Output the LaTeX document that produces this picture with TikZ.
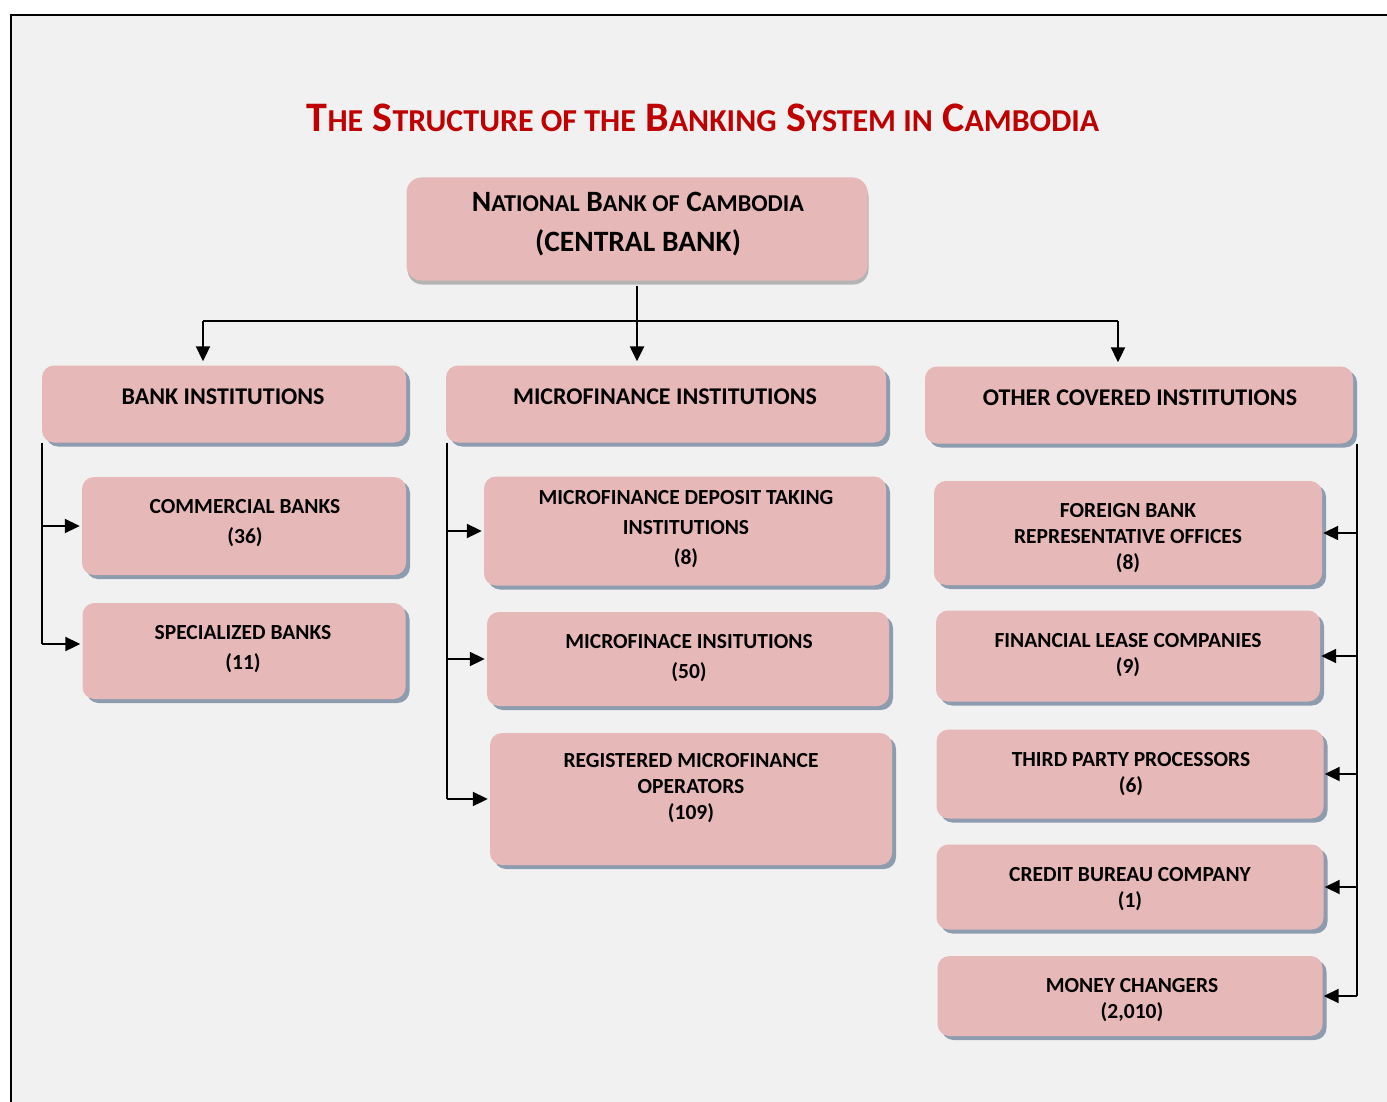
\documentclass[tikz,border=0pt]{standalone}
\usepackage{fontspec}
\setmainfont{Carlito}
\usetikzlibrary{arrows.meta, shadows}

\definecolor{boxpink}{HTML}{E6B8B7}
\definecolor{shadeblue}{HTML}{8E9CAF}
\definecolor{panelgray}{HTML}{F1F1F1}
\definecolor{titlered}{HTML}{C00000}

% fake small caps: big first letter, scaled rest
\newcommand{\fsc}[2]{#1\scalebox{0.76}{#2}}
\newcommand{\fscb}[2]{#1\scalebox{0.82}{#2}}

\begin{document}
\begin{tikzpicture}[x=1pt, y=-1pt, >={Triangle[length=15pt, width=14pt]},
	box/.style={fill=boxpink, rounded corners=12pt, inner sep=0pt,
		drop shadow={shadow xshift=4pt, shadow yshift=-4pt, fill=shadeblue, opacity=1}},
	topbox/.style={fill=boxpink, rounded corners=15pt, inner sep=0pt,
		drop shadow={shadow xshift=1pt, shadow yshift=-4pt, fill=black, opacity=0.25}},
	head/.style={font=\bfseries\fontsize{24}{28}\selectfont},
	lbl/.style={font=\bfseries\fontsize{21.5}{30}\selectfont, align=center},
	lbltight/.style={font=\bfseries\fontsize{21.5}{26}\selectfont, align=center},
	bus/.style={line width=1.6pt},
	arr/.style={line width=2pt, ->}]
	
	% --- 1. PANEL ---
	\useasboundingbox (0,0) rectangle (1387,1102);
	\fill[white] (0,0) rectangle (1387,1102);
	\fill[panelgray] (11,15) rectangle (1387,1102);
	\draw[line width=2pt] (11,1102) -- (11,15) -- (1387,15);
	
	% --- 2. TITLE ---
	\node[text=titlered, font=\bfseries\fontsize{42}{42}\selectfont] (title) at (703,118)
		{\fsc{T}{HE} \fsc{S}{TRUCTURE OF THE} \fsc{B}{ANKING} \fsc{S}{YSTEM IN} \fsc{C}{AMBODIA}};
	
	% --- 3. CENTRAL BANK ---
	\node[topbox, minimum width=461pt, minimum height=103pt] (nbc) at (637,229) {};
	\node[font=\bfseries\fontsize{29.5}{40}\selectfont, align=center] (nbc-t) at (638,224)
		{\fscb{N}{ATIONAL} \fscb{B}{ANK OF} \fscb{C}{AMBODIA}\\(CENTRAL BANK)};
	
	% --- 4. SECOND LEVEL ---
	\node[box, minimum width=364pt, minimum height=77pt] (bank) at (224,404) {};
	\node[box, minimum width=440pt, minimum height=77pt] (mfi) at (666,404) {};
	\node[box, minimum width=428pt, minimum height=77pt] (other) at (1139,405) {};
	\node[head] (bank-t) at (223,397) {BANK INSTITUTIONS};
	\node[head] (mfi-t) at (665,397) {MICROFINANCE INSTITUTIONS};
	\node[head] (other-t) at (1140,398) {OTHER COVERED INSTITUTIONS};
	
	% --- 5. THIRD LEVEL: banks ---
	\node[box, minimum width=324pt, minimum height=98pt] (comm) at (244,526) {};
	\node[box, minimum width=323pt, minimum height=96pt] (spec) at (244,651) {};
	\node[lbl] (comm-t) at (245,523) {COMMERCIAL BANKS\\(36)};
	\node[lbl] (spec-t) at (243,649) {SPECIALIZED BANKS\\(11)};
	
	% --- 6. THIRD LEVEL: microfinance ---
	\node[box, minimum width=402pt, minimum height=109pt] (mdi) at (685,531) {};
	\node[box, minimum width=402pt, minimum height=94pt] (mfin) at (688,659) {};
	\node[box, minimum width=402pt, minimum height=132pt] (rmo) at (691,799) {};
	\node[lbl] (mdi-t) at (686,529) {MICROFINANCE DEPOSIT TAKING\\INSTITUTIONS\\(8)};
	\node[lbl] (mfin-t) at (689,658) {MICROFINACE INSITUTIONS\\(50)};
	\node[lbltight] (rmo-t) at (691,788) {REGISTERED MICROFINANCE\\OPERATORS\\(109)};
	
	% --- 7. THIRD LEVEL: other covered ---
	\node[box, minimum width=388pt, minimum height=104pt] (fbro) at (1128,533) {};
	\node[box, minimum width=384pt, minimum height=91pt] (flc) at (1128,656) {};
	\node[box, minimum width=387pt, minimum height=89pt] (tpp) at (1130,774) {};
	\node[box, minimum width=387pt, minimum height=85pt] (cbc) at (1130,887) {};
	\node[box, minimum width=385pt, minimum height=80pt] (mch) at (1130,996) {};
	\node[lbltight] (fbro-t) at (1128,538) {FOREIGN BANK\\REPRESENTATIVE OFFICES\\(8)};
	\node[lbltight] (flc-t) at (1128,655) {FINANCIAL LEASE COMPANIES\\(9)};
	\node[lbltight] (tpp-t) at (1131,774) {THIRD PARTY PROCESSORS\\(6)};
	\node[lbltight] (cbc-t) at (1130,889) {CREDIT BUREAU COMPANY\\(1)};
	\node[lbltight] (mch-t) at (1132,1000) {MONEY CHANGERS\\(2,010)};
	
	% --- 8. CONNECTORS ---
	\coordinate (lsplit) at (203,321);
	\coordinate (rsplit) at (1118,321);
	\draw[line width=1.4pt] (lsplit) -- (rsplit);
	\draw[arr, line width=2.4pt, shorten <=5pt, shorten >=4pt] (nbc.south) -- (nbc.south |- mfi.north);
	\draw[arr, shorten >=4pt] (lsplit) -- (lsplit |- bank.north);
	\draw[arr, shorten >=4pt] (rsplit) -- (rsplit |- other.north);
	
	% left bus
	\coordinate (lbus) at (bank.south west);
	\draw[bus] (lbus) -- (lbus |- 0,644);
	\draw[arr, shorten >=2pt] (lbus |- comm.west) -- (comm.west);
	\draw[arr, shorten >=2pt] (lbus |- 0,644) -- (spec.west |- 0,644);
	
	% middle bus
	\coordinate (mbus) at ([xshift=1pt]mfi.south west);
	\draw[bus] (mbus) -- (mbus |- rmo.west);
	\foreach \n in {mdi, mfin, rmo}
		\draw[arr, shorten >=2pt] (mbus |- \n.west) -- (\n.west);
	
	% right bus
	\coordinate (rbus) at ([xshift=4pt]other.south east);
	\draw[bus] (rbus) -- (rbus |- mch.east);
	\foreach \n in {fbro, flc, tpp, cbc, mch}
		\draw[arr, shorten >=1pt] (rbus |- \n.east) -- (\n.east);
	
\end{tikzpicture}
\end{document}
